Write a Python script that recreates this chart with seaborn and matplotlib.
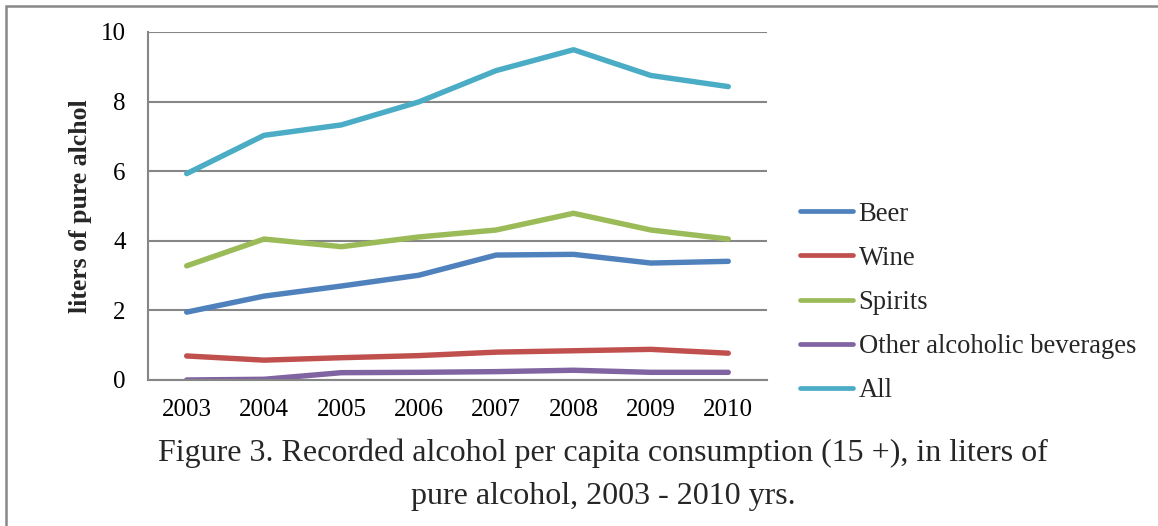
import matplotlib
matplotlib.use("Agg")
import matplotlib.pyplot as plt
import seaborn as sns
import pandas as pd
from matplotlib.patches import Rectangle

# Recorded alcohol consumption per capita (15+), liters of pure alcohol
years = ["2003", "2004", "2005", "2006", "2007", "2008", "2009", "2010"]
beer = [1.95, 2.41, 2.70, 3.01, 3.59, 3.61, 3.36, 3.41]
wine = [0.69, 0.57, 0.64, 0.70, 0.80, 0.84, 0.88, 0.77]
spirits = [3.28, 4.05, 3.83, 4.11, 4.31, 4.79, 4.31, 4.05]
other = [0.00, 0.02, 0.21, 0.22, 0.24, 0.28, 0.22, 0.22]
all_bev = [5.93, 7.03, 7.33, 7.99, 8.89, 9.49, 8.75, 8.43]

series_names = ["Beer", "Wine", "Spirits", "Other alcoholic beverages", "All"]
series_values = [beer, wine, spirits, other, all_bev]
colors = ["#4F81BD", "#C0504D", "#9BBB59", "#8064A2", "#4BACC6"]

y_ticks = [0, 2, 4, 6, 8, 10]
y_label = "liters of pure alchol"
caption = ("Figure 3. Recorded alcohol per capita consumption (15 +), in liters of\n"
           "pure alcohol, 2003 - 2010 yrs.")

rows = []
for name, vals in zip(series_names, series_values):
    for i, (yr, v) in enumerate(zip(years, vals)):
        rows.append({"pos": i, "year": yr, "value": v, "series": name})
df = pd.DataFrame(rows)

sns.set_style("white")
plt.rcParams["font.family"] = ["Liberation Serif", "DejaVu Serif"]

fig = plt.figure(figsize=(11.58, 5.26), dpi=100)
ax = fig.add_axes([0.1278, 0.2776, 0.5345, 0.6616])

sns.lineplot(data=df, x="pos", y="value", hue="series", hue_order=series_names,
             palette=colors, linewidth=3.9, ax=ax, legend=False,
             solid_capstyle="round", solid_joinstyle="round")

ax.set_xlim(-0.5, len(years) - 0.5)
ax.set_ylim(0, 10)
ax.set_xticks(range(len(years)))
ax.set_xticklabels(years)
ax.set_yticks(y_ticks)
ax.set_yticklabels([str(t) for t in y_ticks])
ax.tick_params(axis="both", labelsize=18, colors="black", length=0)
ax.tick_params(axis="y", pad=16)
ax.tick_params(axis="x", pad=14)
ax.set_xlabel("")
ax.set_ylabel(y_label, fontsize=18.5, fontweight="bold", labelpad=6)

ax.yaxis.grid(True, color="#868686", linewidth=1.5)
ax.xaxis.grid(False)
ax.set_axisbelow(True)
for side in ["top", "right"]:
    ax.spines[side].set_visible(False)
for side in ["left", "bottom"]:
    ax.spines[side].set_color("#868686")
    ax.spines[side].set_linewidth(1.5)

handles = [plt.Line2D([], [], color=c, linewidth=3.4, solid_capstyle="round")
           for c in colors]
fig.legend(handles, series_names, loc="center left",
           bbox_to_anchor=(0.6908, 0.425), frameon=False, fontsize=19.2,
           handlelength=2.0, handletextpad=0.2, labelspacing=0.72,
           borderpad=0, borderaxespad=0)

fig.text(0.521, 0.098, caption, ha="center", va="center", fontsize=23,
         linespacing=1.65)

# Outer frame around the figure
fig.patches.append(Rectangle((6 / 1158, -0.1), 1.2, 1 - 6 / 526 + 0.1,
                             transform=fig.transFigure, fill=False,
                             edgecolor="#888888", linewidth=1.8))

fig.savefig("out.png", dpi=100)
